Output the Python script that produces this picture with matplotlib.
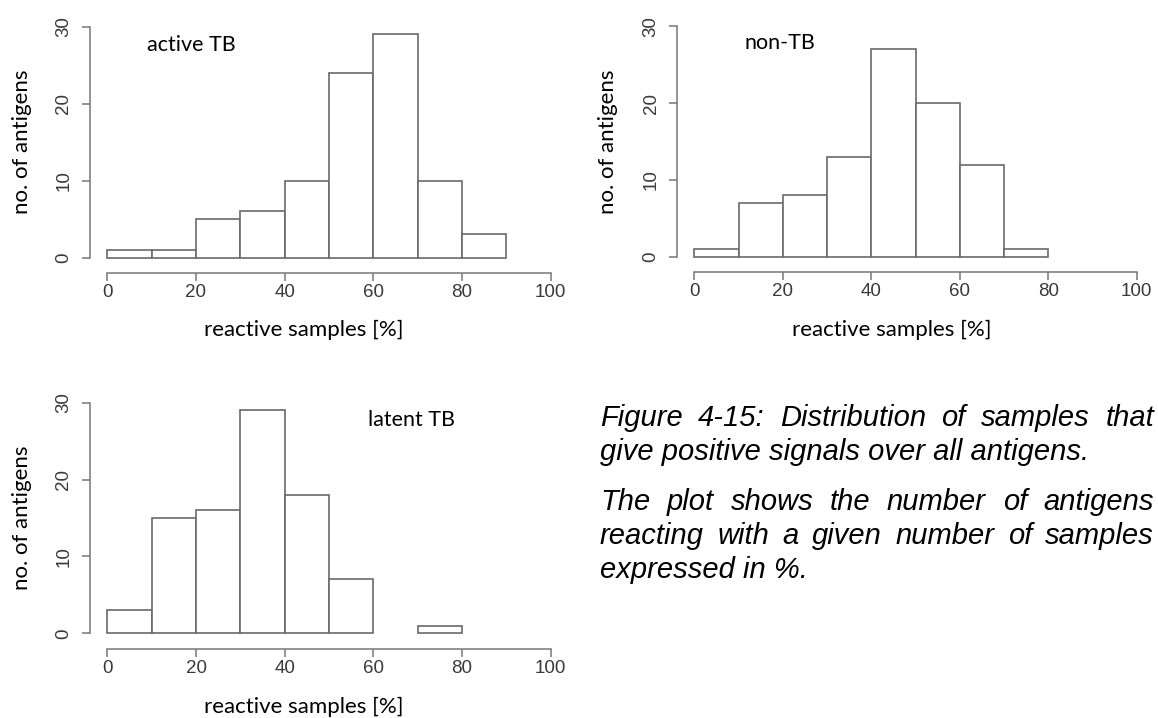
import numpy as np
import matplotlib
matplotlib.use("Agg")
import matplotlib.pyplot as plt
import matplotlib.transforms as mtransforms

W, H = 1158, 718

# histogram counts per 10 % bin of reactive samples
bin_left = [0, 10, 20, 30, 40, 50, 60, 70, 80]
active_tb = [1, 1, 5, 6, 10, 24, 29, 10, 3]
non_tb = [1, 7, 8, 13, 27, 20, 12, 1]
latent_tb = [3, 15, 16, 29, 18, 7, 0, 1]

x_ticks = [0, 20, 40, 60, 80, 100]
y_ticks = [0, 10, 20, 30]
x_label = "reactive samples [%]"
y_label = "no. of antigens"

caption_1 = ["Figure 4-15: Distribution of samples that",
             "give positive signals over all antigens."]
caption_2 = ["The plot shows the number of antigens",
             "reacting with a given number of samples",
             "expressed in %."]

BAR_EDGE = "#6a6a6a"
AXIS_GRAY = "#777777"
TICK_TEXT = "#3a3a3a"
LABEL_FONT = "Lato"
TICK_FONT = "Liberation Sans"

fig = plt.figure(figsize=(W / 100, H / 100), dpi=100)
# pixel coordinates measured from the top-left corner
px = mtransforms.Affine2D().scale(1, -1).translate(0, H)


def add_panel(spine_x, x0, x100, spine_y, y0, y30):
    sx = (x100 - x0) / 100.0
    sy = (y0 - y30) / 30.0
    xmin = -(x0 - spine_x) / sx
    xmax = 108
    ymin = -(spine_y - y0) / sy
    ymax = 31
    right = x0 + xmax * sx
    top = y0 - ymax * sy
    ax = fig.add_axes([spine_x / W, 1 - spine_y / H,
                       (right - spine_x) / W, (spine_y - top) / H])
    ax.set_xlim(xmin, xmax)
    ax.set_ylim(ymin, ymax)
    ax.patch.set_alpha(0)
    for side in ("top", "right"):
        ax.spines[side].set_visible(False)
    ax.spines["left"].set_bounds(0, 30)
    ax.spines["bottom"].set_bounds(0, 100)
    for side in ("left", "bottom"):
        ax.spines[side].set_color(AXIS_GRAY)
        ax.spines[side].set_linewidth(1.1)
    ax.set_xticks(x_ticks)
    ax.set_yticks(y_ticks)
    ax.tick_params(length=5.5, width=1.1, color=AXIS_GRAY, labelcolor=TICK_TEXT,
                   labelsize=13.5)
    ax.tick_params(axis="x", pad=2.5)
    ax.tick_params(axis="y", pad=7, labelrotation=90)
    for t in ax.get_xticklabels() + ax.get_yticklabels():
        t.set_fontfamily(TICK_FONT)
    for t in ax.get_yticklabels():
        t.set_va("center")
    return ax


def draw_hist(ax, counts, title, title_xy, xlabel_xy, ylabel_xy):
    left = np.array(bin_left[:len(counts)])
    counts = np.array(counts)
    keep = counts > 0
    ax.bar(left[keep], counts[keep], width=10, align="edge", facecolor="white",
           edgecolor=BAR_EDGE, linewidth=1.2)
    fig.text(*title_xy, title, transform=px, ha="center", va="center",
             fontsize=15.5, family=LABEL_FONT)
    fig.text(*xlabel_xy, x_label, transform=px, ha="center", va="center",
             fontsize=16, family=LABEL_FONT)
    fig.text(*ylabel_xy, y_label, transform=px, ha="center", va="center",
             rotation=90, fontsize=16, family=LABEL_FONT)


ax1 = add_panel(89.5, 107.3, 550.5, 272.5, 257.5, 26.5)
draw_hist(ax1, active_tb, "active TB", (191, 45), (304, 330), (22, 142))

ax2 = add_panel(677, 694.3, 1136.7, 272.3, 256.7, 26.2)
draw_hist(ax2, non_tb, "non-TB", (780, 43), (892, 330), (608, 142))

ax3 = add_panel(89.5, 107.4, 550.5, 648.7, 633.3, 402.7)
draw_hist(ax3, latent_tb, "latent TB", (411, 420), (304, 707), (22, 518))

# justified italic caption on the right
renderer = fig.canvas.get_renderer()
cap_kw = dict(fontsize=21, family="Liberation Sans", style="italic",
              color="black", va="baseline", ha="left")
cap_left, cap_right = 600, 1154


def justified(lines, baselines):
    for i, (line, y) in enumerate(zip(lines, baselines)):
        if i == len(lines) - 1:
            fig.text(cap_left, y, line, transform=px, **cap_kw)
            continue
        words = line.split()
        texts = [fig.text(0, 0, w, transform=px, **cap_kw) for w in words]
        widths = [t.get_window_extent(renderer).width for t in texts]
        gap = (cap_right - cap_left - sum(widths)) / (len(words) - 1)
        x = cap_left
        for t, w in zip(texts, widths):
            t.set_position((x, y))
            x += w + gap


justified(caption_1, [426, 460])
justified(caption_2, [510, 544, 578])

fig.savefig("out.png", dpi=100)
